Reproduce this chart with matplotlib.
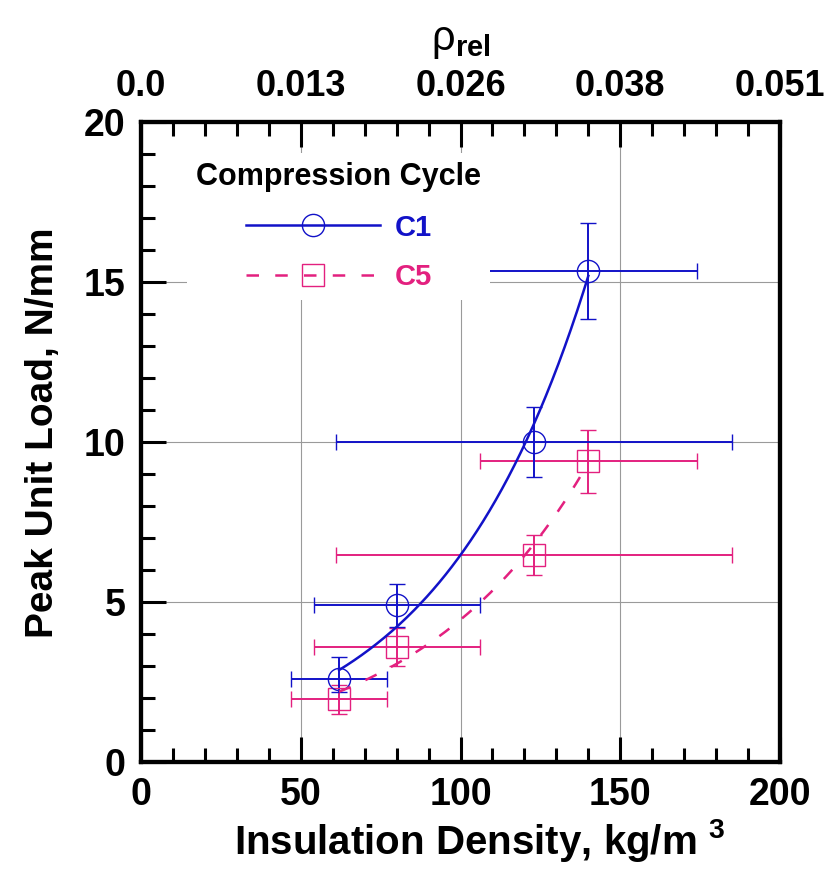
import numpy as np
import matplotlib
matplotlib.use('Agg')
import matplotlib.pyplot as plt
from matplotlib.lines import Line2D
from matplotlib.ticker import MultipleLocator

plt.rcParams['font.family'] = ['Liberation Sans', 'DejaVu Sans']
plt.rcParams['font.weight'] = 'bold'
plt.rcParams['mathtext.fontset'] = 'custom'
plt.rcParams['mathtext.rm'] = 'Liberation Sans:weight=normal'
plt.rcParams['mathtext.bf'] = 'Liberation Sans:bold'

# insulation density, kg/m3
density = [62, 80, 123, 140]
dens_lo = [47, 54, 61, 106]
dens_hi = [77, 106, 185, 174]

# peak unit load, N/mm
c1_load = [2.6, 4.9, 10.0, 15.35]
c1_lo = [2.2, 4.22, 8.9, 13.84]
c1_hi = [3.28, 5.56, 11.1, 16.85]

c5_load = [1.97, 3.6, 6.47, 9.4]
c5_lo = [1.5, 3.0, 5.84, 8.4]
c5_hi = [2.4, 4.2, 7.1, 10.37]

top_ticks = [0, 50, 100, 150, 200]
top_labels = ['0.0', '0.013', '0.026', '0.038', '0.051']

blue = '#1212c8'
pink = '#e3207f'

fig = plt.figure(figsize=(8.29, 8.74), dpi=100)
ax = fig.add_axes([0.170, 0.128, 0.771, 0.732])

x = np.array(density)
xerr = [x - np.array(dens_lo), np.array(dens_hi) - x]

def exp_fit(xs, ys):
    b, a = np.polyfit(xs, np.log(ys), 1)
    xx = np.linspace(min(xs), max(xs), 200)
    return xx, np.exp(a + b * xx)

for load, lo, hi, col, mk, ls in [(c5_load, c5_lo, c5_hi, pink, 's', (0, (5, 6.5))),
                                  (c1_load, c1_lo, c1_hi, blue, 'o', '-')]:
    y = np.array(load)
    yerr = [y - np.array(lo), np.array(hi) - y]
    ax.errorbar(x, y, xerr=xerr, yerr=yerr, fmt=mk, ms=16, mfc='none', mec=col,
                mew=1.0, ecolor=col, elinewidth=1.4, capsize=6, capthick=1.6, zorder=3)
    xx, yy = exp_fit(x, y)
    ax.plot(xx, yy, color=col, lw=1.8, linestyle=ls, zorder=4)

ax.set_xlim(0, 200)
ax.set_ylim(0, 20)
ax.xaxis.set_major_locator(MultipleLocator(50))
ax.xaxis.set_minor_locator(MultipleLocator(10))
ax.yaxis.set_major_locator(MultipleLocator(5))
ax.yaxis.set_minor_locator(MultipleLocator(1))
ax.grid(True, which='major', color='#9a9a9a', lw=0.8)
ax.tick_params(which='both', direction='in', top=False, right=False, width=2.2, labelsize=27)
ax.tick_params(which='major', length=18)
ax.tick_params(which='minor', length=10)
ax.tick_params(axis='x', pad=11)
ax.tick_params(axis='y', pad=11)
for s in ax.spines.values():
    s.set_linewidth(3)

ax.set_xlabel('Insulation Density, kg/m $^{\\mathbf{3}}$', fontsize=29, fontweight='bold')
ax.set_ylabel('Peak Unit Load, N/mm', fontsize=28, fontweight='bold')
ax.xaxis.set_label_coords(0.53, -0.085)
ax.yaxis.set_label_coords(-0.125, 0.515)

top = ax.twiny()
top.set_xlim(0, 200)
top.set_xticks(top_ticks)
top.set_xticklabels(top_labels)
top.xaxis.set_minor_locator(MultipleLocator(10))
top.tick_params(which='both', direction='in', width=2.2, labelsize=26, pad=13)
top.tick_params(which='major', length=18)
top.tick_params(which='minor', length=10)
top.set_xlabel(r'$\mathrm{\rho}_{\mathbf{rel}}$', fontsize=30, labelpad=14)
for s in top.spines.values():
    s.set_linewidth(3)

handles = [Line2D([], [], color=blue, lw=1.8, marker='o', ms=16, mfc='none', mew=1.0),
           Line2D([], [], color=pink, lw=1.8, linestyle=(0, (5, 6.5)), marker='s', ms=16,
                  mfc='none', mew=1.0)]
leg = ax.legend(handles, ['C1', 'C5'], title='Compression Cycle', loc='upper left',
                bbox_to_anchor=(0.05, 0.975), frameon=True, framealpha=1, edgecolor='none',
                fontsize=21, title_fontsize=22, labelcolor='linecolor', handlelength=4.6,
                handletextpad=0.5, labelspacing=0.75, borderpad=0.3)
leg.get_title().set_fontweight('bold')
for t in leg.get_texts():
    t.set_fontweight('bold')

fig.savefig('out.png', dpi=100)
